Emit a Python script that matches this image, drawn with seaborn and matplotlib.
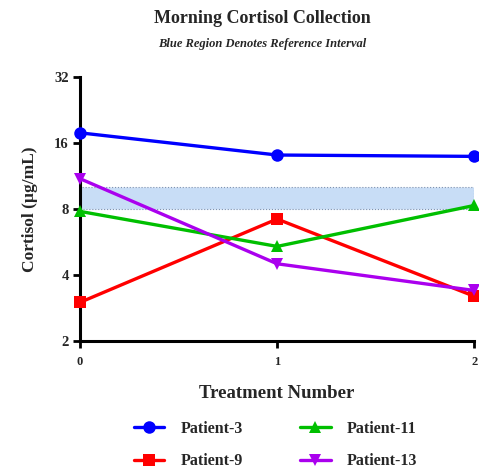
import matplotlib
matplotlib.use("Agg")
import matplotlib.pyplot as plt
import matplotlib.ticker as mticker
from matplotlib.lines import Line2D
import seaborn as sns
import pandas as pd

treatments = [0, 1, 2]
patient_3 = [17.8, 14.1, 13.9]
patient_9 = [3.0, 7.2, 3.2]
patient_11 = [7.8, 5.4, 8.3]
patient_13 = [11.0, 4.5, 3.4]
ref_low, ref_high = 8.0, 10.1
y_ticks = [2, 4, 8, 16, 32]

names = ["Patient-3", "Patient-9", "Patient-11", "Patient-13"]
series = [patient_3, patient_9, patient_11, patient_13]
colors = {"Patient-3": "#0000FF", "Patient-9": "#FF0000",
          "Patient-11": "#00BF00", "Patient-13": "#AA00EE"}
markers = {"Patient-3": "o", "Patient-9": "s", "Patient-11": "^", "Patient-13": "v"}

rows = []
for n, vals in zip(names, series):
    for t, v in zip(treatments, vals):
        rows.append({"Treatment": t, "Cortisol": v, "Patient": n})
df = pd.DataFrame(rows)

sns.set_style("ticks")
plt.rcParams["font.family"] = ["Liberation Serif", "DejaVu Serif"]
plt.rcParams["font.weight"] = "bold"

fig = plt.figure(figsize=(4.79, 4.74), dpi=100)
ax = fig.add_axes([0.167, 0.2806, 0.823, 0.557])

ax.axhspan(ref_low, ref_high, facecolor="#C8DDF6", edgecolor="#7F93B0",
           linestyle=":", linewidth=0.8, zorder=0.5)

sns.lineplot(data=df, x="Treatment", y="Cortisol", hue="Patient", style="Patient",
             hue_order=names, palette=colors, markers=markers, dashes=False,
             markersize=9, markeredgewidth=0, linewidth=2.4, ax=ax, legend=False,
             clip_on=False, zorder=3)

ax.set_yscale("log", base=2)
ax.set_ylim(2, 32)
ax.set_xlim(0, 2)
ax.set_yticks(y_ticks)
ax.yaxis.set_major_formatter(mticker.FuncFormatter(lambda v, p: f"{int(v)}"))
ax.yaxis.set_minor_locator(mticker.NullLocator())
ax.set_xticks(treatments)

for side in ["top", "right"]:
    ax.spines[side].set_visible(False)
for side in ["left", "bottom"]:
    ax.spines[side].set_linewidth(2.2)
    ax.spines[side].set_color("black")
ax.tick_params(axis="both", width=2, length=5, color="black")
ax.tick_params(axis="y", labelsize=10.5, pad=3)
ax.tick_params(axis="x", labelsize=9, pad=6)
for lab in ax.get_xticklabels() + ax.get_yticklabels():
    lab.set_fontweight("bold")

ax.set_xlabel("Treatment Number", fontsize=13.5, fontweight="bold", labelpad=12)
ax.set_ylabel("Cortisol (µg/mL)", fontsize=12.5, fontweight="bold", labelpad=12)

fig.text(0.548, 0.962, "Morning Cortisol Collection", ha="center", va="center",
         fontsize=13, fontweight="bold")
fig.text(0.548, 0.908, "Blue Region Denotes Reference Interval", ha="center",
         va="center", fontsize=9, fontweight="bold", style="italic")

handles = [Line2D([0], [0], color=colors[n], marker=markers[n], markersize=9,
                  markeredgewidth=0, linewidth=2.4) for n in names]
fig.legend(handles, names, loc="center", bbox_to_anchor=(0.575, 0.061), ncol=2,
           frameon=False, handlelength=1.9, handletextpad=1.0, columnspacing=3.6,
           labelspacing=1.05, prop={"weight": "bold", "size": 11.5})

fig.savefig("out.png", dpi=100)
